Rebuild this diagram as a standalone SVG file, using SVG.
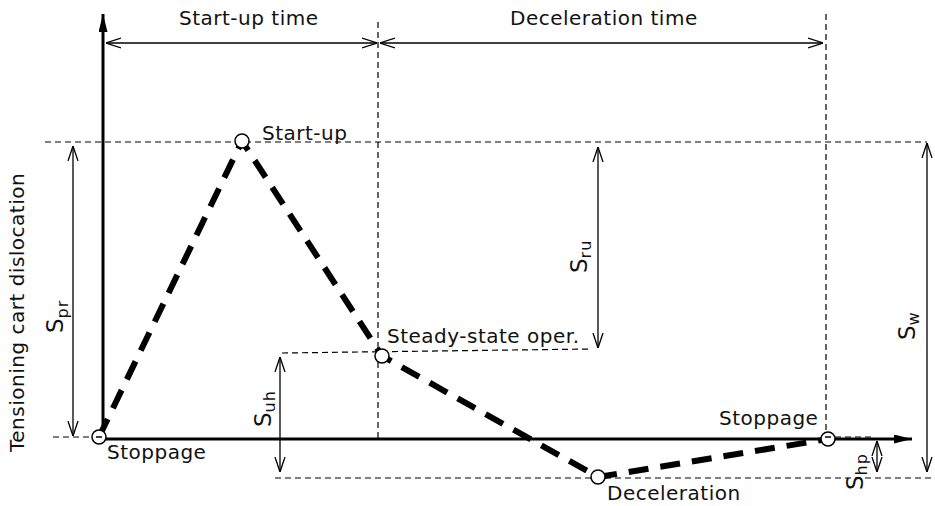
<svg xmlns="http://www.w3.org/2000/svg" width="935" height="506" viewBox="0 0 935 506">
<style>
.lbl{font-family:"DejaVu Sans",Verdana,sans-serif;font-size:20px;letter-spacing:0.5px;fill:#111}
.sym{font-family:"DejaVu Sans",Verdana,sans-serif;font-size:23px;fill:#111}
.sub{font-size:16px;letter-spacing:1px}
.axis{stroke:#000;stroke-width:3;fill:none}
.dim{stroke:#000;stroke-width:1.3;fill:none}
.guide{stroke:#000;stroke-width:1.2;fill:none;stroke-dasharray:6 4}
.curve{stroke:#000;stroke-width:6;fill:none;stroke-dasharray:20 12}
.pt{fill:#fff;stroke:#000;stroke-width:1.5}
</style>
<defs>
<marker id="open" viewBox="0 0 15 12" refX="15" refY="6" markerWidth="15" markerHeight="12" markerUnits="userSpaceOnUse" orient="auto-start-reverse">
<path d="M0,1 L15,6 L0,11" fill="none" stroke="#000" stroke-width="1.3"/>
</marker>
<marker id="solid" viewBox="0 0 18 9" refX="18" refY="4.5" markerWidth="18" markerHeight="9" markerUnits="userSpaceOnUse" orient="auto">
<path d="M0,0 L18,4.5 L0,9 Z" fill="#000"/>
</marker>
</defs>

<g id="axes">
<line class="axis" x1="103" y1="439" x2="103" y2="14" marker-end="url(#solid)"/>
<line class="axis" x1="103" y1="439" x2="912" y2="439" marker-end="url(#solid)"/>
</g>

<g id="guides">
<line class="guide" x1="378" y1="22" x2="378" y2="439"/>
<line class="guide" x1="826" y1="14" x2="826" y2="432"/>
<line class="guide" x1="45" y1="142" x2="927" y2="142"/>
<line class="guide" x1="53" y1="437" x2="92" y2="437"/>
<line class="guide" x1="282" y1="353" x2="590" y2="349"/>
<line class="guide" x1="275" y1="478" x2="935" y2="478"/>
<line class="guide" x1="835" y1="437" x2="875" y2="437"/>
</g>

<g id="connectors">
<path class="curve" d="M99,437 L242,141 L382,356 L598,477 L828,439"/>
<line class="dim" x1="106" y1="43" x2="377" y2="43" marker-start="url(#open)" marker-end="url(#open)"/>
<line class="dim" x1="380" y1="43" x2="823" y2="43" marker-start="url(#open)" marker-end="url(#open)"/>
<line class="dim" x1="73" y1="146" x2="73" y2="436" marker-start="url(#open)" marker-end="url(#open)"/>
<line class="dim" x1="598" y1="147" x2="598" y2="348" marker-start="url(#open)" marker-end="url(#open)"/>
<line class="dim" x1="280" y1="357" x2="280" y2="472" marker-start="url(#open)" marker-end="url(#open)"/>
<line class="dim" x1="877" y1="441" x2="877" y2="472" marker-start="url(#open)" marker-end="url(#open)"/>
<line class="dim" x1="927" y1="143" x2="927" y2="472" marker-start="url(#open)" marker-end="url(#open)"/>
</g>

<g id="node-stoppage-start">
<circle class="pt" cx="99" cy="437" r="7"/>
<line x1="96" y1="437" x2="102" y2="437" stroke="#000" stroke-width="1.5"/>
<text class="lbl" x="107" y="459">Stoppage</text>
</g>
<g id="node-startup">
<circle class="pt" cx="242" cy="141" r="7"/>
<text class="lbl" x="262" y="140">Start-up</text>
</g>
<g id="node-steady">
<circle class="pt" cx="382" cy="356" r="7"/>
<text class="lbl" x="387" y="343">Steady-state oper.</text>
</g>
<g id="node-deceleration">
<circle class="pt" cx="598" cy="477" r="7"/>
<text class="lbl" x="607" y="500">Deceleration</text>
</g>
<g id="node-stoppage-end">
<circle class="pt" cx="828" cy="439" r="7"/>
<line x1="825" y1="437" x2="831" y2="437" stroke="#000" stroke-width="1.5"/>
<text class="lbl" x="719" y="425">Stoppage</text>
</g>

<g id="labels">
<text class="lbl" x="179" y="25">Start-up time</text>
<text class="lbl" x="510" y="25">Deceleration time</text>
<text class="lbl" transform="translate(24,452) rotate(-90)">Tensioning cart dislocation</text>
<text class="sym" transform="translate(63,333) rotate(-90)">S<tspan class="sub" dy="5">pr</tspan></text>
<text class="sym" transform="translate(587,273) rotate(-90)">S<tspan class="sub" dy="4">ru</tspan></text>
<text class="sym" transform="translate(271,427) rotate(-90)">S<tspan class="sub" dy="4">uh</tspan></text>
<text class="sym" transform="translate(915,340) rotate(-90)">S<tspan class="sub" dy="4">w</tspan></text>
<text class="sym" transform="translate(863,490) rotate(-90)">S<tspan class="sub" dy="4">hp</tspan></text>
</g>
</svg>
